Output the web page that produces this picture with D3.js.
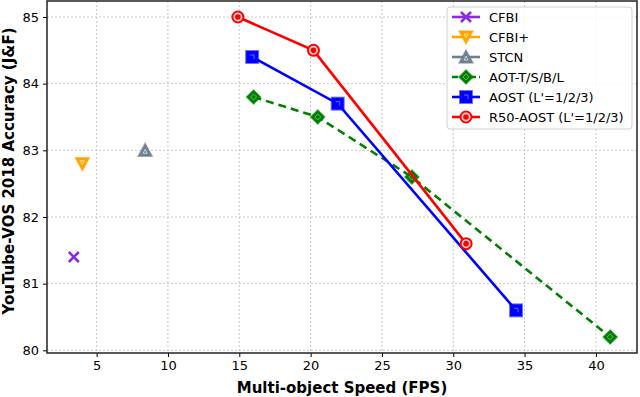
<!DOCTYPE html>
<html>
<head>
<meta charset="utf-8">
<script src="https://cdn.jsdelivr.net/npm/d3@7"></script>
<style>
  body { margin: 0; background: #fff; }
  text { font-family: "DejaVu Sans", sans-serif; }
</style>
</head>
<body>
<svg id="chart"></svg>
<script>
var viewWidth = 640;
var viewHeight = 397;
var margin = {top: 1, right: 3, bottom: 44, left: 47};
var width = viewWidth - margin.left - margin.right;
var height = viewHeight - margin.top - margin.bottom;

// data
var cfbiFps = [3.4], cfbiAcc = [81.4];
var cfbiPlusFps = [4.0], cfbiPlusAcc = [82.8];
var stcnFps = [8.4], stcnAcc = [83.0];
var aotFps = [16.0, 20.5, 27.1, 41.0], aotAcc = [83.8, 83.5, 82.6, 80.2];
var aostFps = [15.9, 21.9, 34.4], aostAcc = [84.4, 83.7, 80.6];
var r50Fps = [14.9, 20.2, 30.9], r50Acc = [85.0, 84.5, 81.6];
var xTicks = [5, 10, 15, 20, 25, 30, 35, 40];
var yTicks = [80, 81, 82, 83, 84, 85];

var series = [
  {name: "CFBI", fps: cfbiFps, acc: cfbiAcc, color: "#8a2be2", marker: "x", dash: null},
  {name: "CFBI+", fps: cfbiPlusFps, acc: cfbiPlusAcc, color: "#ffa500", marker: "v", dash: null},
  {name: "STCN", fps: stcnFps, acc: stcnAcc, color: "#708090", marker: "^", dash: null},
  {name: "AOT-T/S/B/L", fps: aotFps, acc: aotAcc, color: "#008000", marker: "D", dash: "8,5"},
  {name: "AOST (L'=1/2/3)", fps: aostFps, acc: aostAcc, color: "#0000ff", marker: "s", dash: null},
  {name: "R50-AOST (L'=1/2/3)", fps: r50Fps, acc: r50Acc, color: "#ff0000", marker: "o", dash: null}
];

var svg = d3.select("#chart")
    .attr("width", viewWidth)
    .attr("height", viewHeight);
var g = svg.append("g")
    .attr("transform", "translate(" + margin.left + "," + margin.top + ")");

var x = d3.scaleLinear().domain([1.52, 42.88]).range([0, width]);
var y = d3.scaleLinear().domain([79.96, 85.24]).range([height, 0]);

// grid
g.append("g").selectAll("line").data(xTicks).enter().append("line")
    .attr("x1", function(d) { return x(d); }).attr("x2", function(d) { return x(d); })
    .attr("y1", 0).attr("y2", height)
    .style("stroke", "#c8c8c8").style("stroke-width", 1).style("stroke-dasharray", "2,2");
g.append("g").selectAll("line").data(yTicks).enter().append("line")
    .attr("y1", function(d) { return y(d); }).attr("y2", function(d) { return y(d); })
    .attr("x1", 0).attr("x2", width)
    .style("stroke", "#c8c8c8").style("stroke-width", 1).style("stroke-dasharray", "2,2");

// axes
var xAxis = d3.axisBottom(x).tickValues(xTicks).tickFormat(d3.format("d")).tickSize(4).tickPadding(4);
var yAxis = d3.axisLeft(y).tickValues(yTicks).tickFormat(d3.format("d")).tickSize(4).tickPadding(4);
var gx = g.append("g").attr("transform", "translate(0," + height + ")").call(xAxis);
var gy = g.append("g").call(yAxis);
[gx, gy].forEach(function(a) {
  a.select(".domain").remove();
  a.selectAll("text").style("font-family", "DejaVu Sans").style("font-size", "13px").style("fill", "#000");
  a.selectAll(".tick line").style("stroke", "#000");
});

g.append("text")
    .attr("x", width / 2)
    .attr("y", height + 40)
    .style("text-anchor", "middle")
    .style("font-size", "15px").style("font-weight", "bold")
    .text("Multi-object Speed (FPS)");
g.append("text")
    .attr("transform", "translate(" + (-33) + "," + (height / 2 - 6) + ") rotate(-90)")
    .style("text-anchor", "middle")
    .style("font-size", "15px").style("font-weight", "bold")
    .text("YouTube-VOS 2018 Accuracy (J&F)");

function drawMarker(sel, s) {
  var c = s.color;
  if (s.marker === "x") {
    sel.append("path").attr("d", "M-5,-5L5,5M-5,5L5,-5")
      .style("stroke", c).style("stroke-width", 2.5).style("fill", "none");
  } else if (s.marker === "v") {
    sel.append("path").attr("d", "M-7,-6L7,-6L0,7Z")
      .style("fill", c).style("stroke", c).style("stroke-opacity", 0.6).style("stroke-width", 1.5);
    sel.append("path").attr("d", "M-2,-3L2,-3L0,1Z").style("fill", "none").style("stroke", "#fff").style("stroke-width", 0.6);
  } else if (s.marker === "^") {
    sel.append("path").attr("d", "M-7,6L7,6L0,-7Z")
      .style("fill", c).style("stroke", c).style("stroke-opacity", 0.6).style("stroke-width", 1.5);
    sel.append("path").attr("d", "M-2,3L2,3L0,-1Z").style("fill", "none").style("stroke", "#fff").style("stroke-width", 0.6);
  } else if (s.marker === "D") {
    sel.append("path").attr("d", "M0,-7L7,0L0,7L-7,0Z")
      .style("fill", c).style("stroke", c).style("stroke-opacity", 0.6).style("stroke-width", 1.5);
    sel.append("path").attr("d", "M0,-3L3,0L0,3L-3,0Z").style("fill", "none").style("stroke", "#7fbf7f").style("stroke-width", 0.8);
  } else if (s.marker === "s") {
    sel.append("rect").attr("x", -6).attr("y", -6).attr("width", 12).attr("height", 12)
      .style("fill", c).style("stroke", c).style("stroke-opacity", 0.55).style("stroke-width", 2);
    sel.append("path").attr("d", "M-2,-2L2,-2L2,2").style("fill", "none").style("stroke", "#8080ff").style("stroke-width", 0.8);
  } else if (s.marker === "o") {
    sel.append("circle").attr("r", 5.5)
      .style("fill", "#ffd0d0").style("stroke", c).style("stroke-width", 2);
    sel.append("circle").attr("r", 2.8).style("fill", c);
  }
}

var line = d3.line()
    .x(function(d) { return x(d[0]); })
    .y(function(d) { return y(d[1]); });

series.forEach(function(s) {
  var pts = s.fps.map(function(f, i) { return [f, s.acc[i]]; });
  if (pts.length > 1) {
    g.append("path").datum(pts).attr("d", line)
      .style("fill", "none").style("stroke", s.color).style("stroke-width", 2.6)
      .style("stroke-dasharray", s.dash);
  }
  pts.forEach(function(p) {
    var m = g.append("g").attr("transform", "translate(" + x(p[0]) + "," + y(p[1]) + ")");
    drawMarker(m, s);
  });
});

// frame
g.append("rect").attr("x", 0).attr("y", 0).attr("width", width).attr("height", height)
    .style("fill", "none").style("stroke", "#222").style("stroke-width", 1.5);

// legend
var lg = svg.append("g").attr("transform", "translate(447,7)");
lg.append("rect").attr("width", 185).attr("height", 122).attr("rx", 3)
    .style("fill", "#fff").style("fill-opacity", 0.85).style("stroke", "#d0d0d0");
series.forEach(function(s, i) {
  var row = lg.append("g").attr("transform", "translate(0," + (10 + i * 20) + ")");
  row.append("line").attr("x1", 5).attr("x2", 33).attr("y1", 0).attr("y2", 0)
    .style("stroke", s.color).style("stroke-width", 2.6).style("stroke-dasharray", s.dash ? "6,3" : null);
  var m = row.append("g").attr("transform", "translate(19,0)");
  drawMarker(m, s);
  row.append("text").attr("x", 42).attr("y", 5)
    .style("font-size", "13px").text(s.name);
});
</script>
</body>
</html>
